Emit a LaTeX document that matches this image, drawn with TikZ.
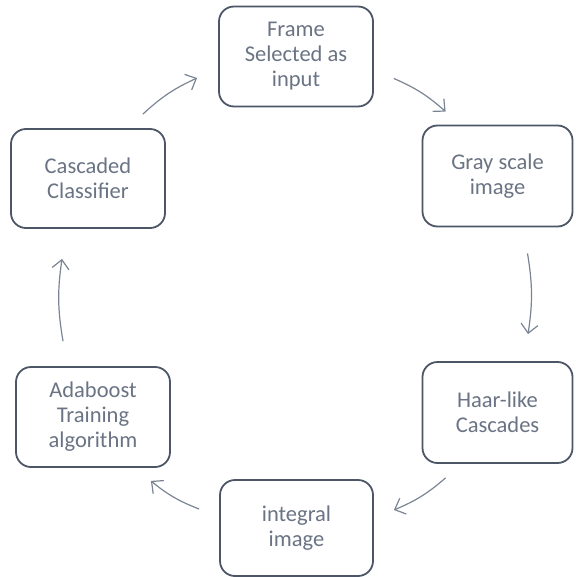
\documentclass[tikz,border=0pt]{standalone}
\usepackage{fontspec}
\setmainfont{Carlito}
\usetikzlibrary{arrows.meta,calc}
\definecolor{boxline}{HTML}{4C5666}
\definecolor{boxtext}{HTML}{6A7484}
\definecolor{arrowcol}{HTML}{7A8494}
\tikzset{
  stagebox/.style={draw=boxline, line width=1.8pt, rounded corners=15pt, fill=white,
    minimum width=154pt, minimum height=100pt, align=center, text=boxtext,
    font=\fontsize{22.5pt}{25pt}\selectfont, inner sep=2pt},
  cyclearrow/.style={draw=arrowcol, line width=1.2pt, -{Straight Barb[length=9pt,width=17pt,line width=1.2pt]}}
}
\begin{document}
\begin{tikzpicture}[x=1pt,y=1pt]
\useasboundingbox (0,0) rectangle (575,-577);
\node[stagebox] (f) at (296,-56.5) {Frame\\Selected as\\input};
\node[stagebox, minimum width=150pt, minimum height=101pt] (g) at (497.5,-176) {Gray scale\\image};
\node[stagebox, minimum height=99pt] (c) at (88,-178.5) {Cascaded\\Classifier};
\node[stagebox, minimum width=150pt, minimum height=101pt] (h) at (497.5,-412.5) {Haar-like\\Cascades};
\node[stagebox] (a) at (93,-417) {Adaboost\\Training\\algorithm};
\node[stagebox, minimum width=153pt, minimum height=96pt] (i) at (296.5,-528) {integral\\image};

\draw[cyclearrow] ($(f.east)+(20,-22)$) to[bend left=9] ($(g.north west)+(24,13)$);
\draw[cyclearrow] ($(g.south)+(30,-26)$) to[bend left=9] ($(h.north)+(30.5,27)$);
\draw[cyclearrow] ($(h.south west)+(24,-14)$) to[bend left=9] ($(i.east)+(20,18)$);
\draw[cyclearrow] ($(i.west)+(-20,19)$) to[bend left=9] ($(a.south east)+(-20,-13)$);
\draw[cyclearrow] ($(a.north)+(-30,25)$) to[bend left=9] ($(c.south)+(-26,-30)$);
\draw[cyclearrow] ($(c.north east)+(-23,14)$) to[bend left=9] ($(f.west)+(-21,-21.5)$);
\end{tikzpicture}
\end{document}
